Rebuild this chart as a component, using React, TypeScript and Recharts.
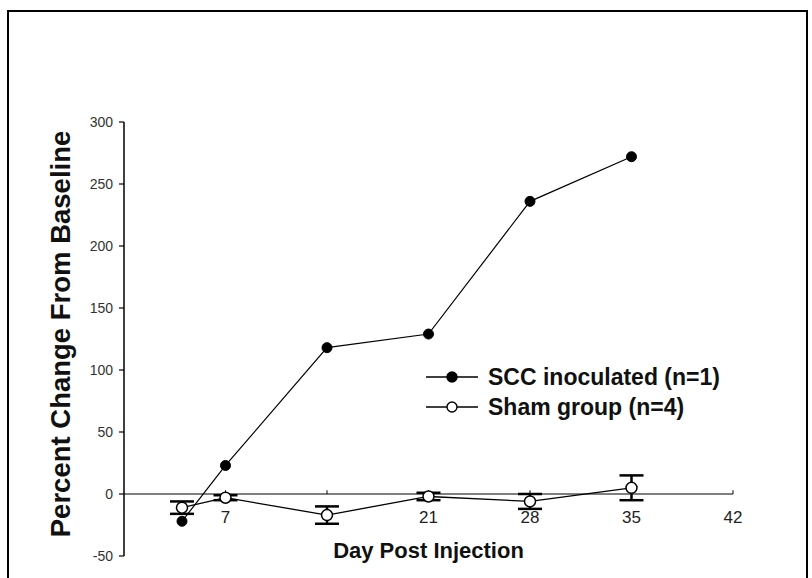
import { LineChart, Line, XAxis, YAxis, ErrorBar, ReferenceLine, ReferenceDot } from "recharts";

const days = [4, 7, 14, 21, 28, 35];
const sccValues = [-22, 23, 118, 129, 236, 272];
const shamValues = [-11, -3, -17, -2, -6, 5];
const shamErrors = [5, 2, 7, 3, 6, 10];
const xTickMarks = [7, 14, 21, 28, 35, 42];
const xTickLabels = [7, 21, 28, 35, 42];
const yTicks = [-50, 0, 50, 100, 150, 200, 250, 300];
const seriesNames = ["SCC inoculated (n=1)", "Sham group (n=4)"];

const data = days.map((day, i) => ({
  day,
  scc: sccValues[i],
  sham: shamValues[i],
  shamErr: shamErrors[i],
}));

const font = "'Liberation Sans', Arial, sans-serif";

function LegendBox() {
  const rows = [
    { name: seriesNames[0], fill: "#000" },
    { name: seriesNames[1], fill: "#fff" },
  ];
  return (
    <div style={{ fontFamily: font }}>
      {rows.map((r) => (
        <div key={r.name} style={{ display: "flex", alignItems: "center", height: 30 }}>
          <svg width={56} height={20} style={{ marginRight: 8 }}>
            <line x1={2} y1={10} x2={54} y2={10} stroke="#000" strokeWidth={1.3} />
            <circle cx={28} cy={10} r={5} fill={r.fill} stroke="#000" strokeWidth={1.4} />
          </svg>
          <span style={{ fontSize: 23, fontWeight: 700, color: "#111" }}>{r.name}</span>
        </div>
      ))}
    </div>
  );
}

export default function App() {
  return (
    <div style={{ position: "absolute", left: 0, top: 0, width: 812, height: 578, overflow: "hidden", background: "#fff" }}>
      <div
        style={{
          position: "absolute",
          left: 7,
          top: 10,
          width: 801,
          height: 620,
          border: "2px solid #000",
          boxSizing: "border-box",
        }}
      />
      <div style={{ position: "absolute", left: 0, top: 0 }}>
        <LineChart width={812} height={578} data={data} margin={{ top: 122, right: 79, bottom: 0, left: 0 }}>
          <XAxis
            dataKey="day"
            type="number"
            domain={[0, 42]}
            ticks={xTickMarks}
            tick={false}
            tickLine={false}
            axisLine={false}
            height={22}
            label={{
              content: ({ viewBox }: any) => (
                <text
                  x={viewBox.x + viewBox.width / 2}
                  y={viewBox.y + 2}
                  textAnchor="middle"
                  fontFamily={font}
                  fontWeight={700}
                  fontSize={22}
                  fill="#111"
                >
                  Day Post Injection
                </text>
              ),
            }}
          />
          <YAxis
            type="number"
            domain={[-50, 300]}
            ticks={yTicks}
            width={124}
            axisLine={{ stroke: "#000", strokeWidth: 1.5 }}
            tickLine={{ stroke: "#000", strokeWidth: 1.2 }}
            tickSize={5}
            tickMargin={6}
            tick={{ fontSize: 14, fill: "#333", fontFamily: font }}
            label={{
              content: ({ viewBox }: any) => {
                const cx = viewBox.x + viewBox.width / 2 - 2;
                const cy = viewBox.y + viewBox.height / 2 - 5;
                return (
                  <text
                    x={cx}
                    y={cy}
                    transform={`rotate(-90, ${cx}, ${cy})`}
                    textAnchor="middle"
                    dominantBaseline="central"
                    fontFamily={font}
                    fontWeight={700}
                    fontSize={27.5}
                    fill="#111"
                  >
                    Percent Change From Baseline
                  </text>
                );
              },
            }}
          />
          <ReferenceLine y={0} stroke="#000" strokeWidth={1.2} />
          {xTickMarks.map((t) => (
            <ReferenceLine
              key={`tm${t}`}
              segment={[
                { x: t, y: 0 },
                { x: t, y: 3 },
              ]}
              stroke="#000"
              strokeWidth={1}
            />
          ))}
          {xTickLabels.map((t) => (
            <ReferenceDot
              key={`tl${t}`}
              x={t}
              y={0}
              r={0}
              fill="none"
              stroke="none"
              label={{ value: String(t), position: "bottom", offset: 17, fontSize: 17, fill: "#222", fontFamily: font }}
            />
          ))}
          <Line
            dataKey="sham"
            stroke="#000"
            strokeWidth={1.3}
            isAnimationActive={false}
            dot={{ r: 5.5, fill: "#fff", stroke: "#000", strokeWidth: 1.5 }}
          >
            <ErrorBar dataKey="shamErr" direction="y" width={12} stroke="#000" strokeWidth={2.5} />
          </Line>
          <Line
            dataKey="scc"
            stroke="#000"
            strokeWidth={1.2}
            isAnimationActive={false}
            dot={{ r: 5, fill: "#000", stroke: "#000", strokeWidth: 1 }}
          />
        </LineChart>
      </div>
      <div style={{ position: "absolute", left: 424, top: 362, width: 360 }}>
        <LegendBox />
      </div>
    </div>
  );
}
